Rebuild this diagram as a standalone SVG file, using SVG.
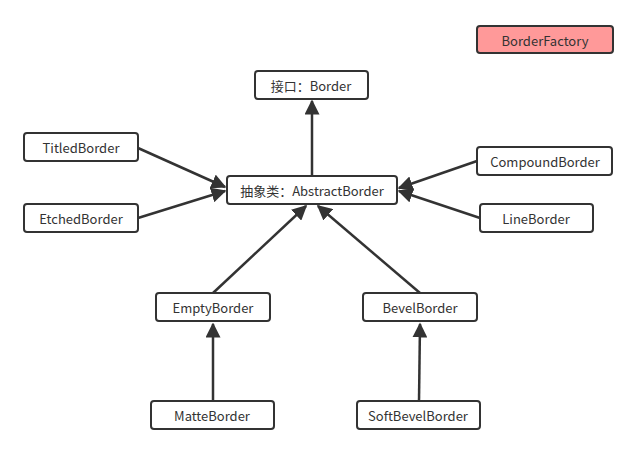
<svg xmlns="http://www.w3.org/2000/svg" width="638" height="453" viewBox="0 0 638 453">
<style>
.n rect{fill:#fff;stroke:#333;stroke-width:2}
.n text{font-family:"Noto Sans CJK SC","Liberation Sans",sans-serif;font-size:13px;fill:#333;text-anchor:middle;dominant-baseline:central}
.c line{stroke:#333;stroke-width:2.5;marker-end:url(#a)}
</style>
<defs><marker id="a" viewBox="0 0 10 10" refX="9" refY="5" markerWidth="6" markerHeight="6" markerUnits="strokeWidth" orient="auto"><path d="M0,0L10,5L0,10z" fill="#333"/></marker></defs>
<rect width="638" height="453" fill="#fff"/>
<g class="c">
<line x1="312" y1="175" x2="312" y2="101"/>
<line x1="138" y1="148" x2="225" y2="187"/>
<line x1="138" y1="218" x2="225" y2="191"/>
<line x1="477" y1="161" x2="399" y2="188"/>
<line x1="480" y1="218" x2="399" y2="191"/>
<line x1="213" y1="293" x2="306" y2="206"/>
<line x1="420" y1="293" x2="318" y2="206"/>
<line x1="213" y1="401" x2="213" y2="324"/>
<line x1="419" y1="401" x2="420" y2="324"/>
</g>
<g id="factory" class="n"><rect x="477" y="26" width="136" height="27" rx="3" style="fill:#ff9999"/><text x="545" y="40">BorderFactory</text></g>
<g id="border" class="n"><rect x="255" y="71" width="113" height="28" rx="3"/><text x="311" y="85">接口：Border</text></g>
<g id="abstract" class="n"><rect x="227" y="176" width="170" height="28" rx="3"/><text x="312" y="190">抽象类：AbstractBorder</text></g>
<g id="titled" class="n"><rect x="24" y="133" width="114" height="28" rx="3"/><text x="81" y="147">TitledBorder</text></g>
<g id="etched" class="n"><rect x="24" y="204" width="114" height="28" rx="3"/><text x="81" y="218">EtchedBorder</text></g>
<g id="compound" class="n"><rect x="477" y="147" width="135" height="28" rx="3"/><text x="545" y="161">CompoundBorder</text></g>
<g id="line" class="n"><rect x="480" y="204" width="113" height="28" rx="3"/><text x="536" y="218">LineBorder</text></g>
<g id="empty" class="n"><rect x="156" y="293" width="114" height="28" rx="3"/><text x="213" y="307">EmptyBorder</text></g>
<g id="bevel" class="n"><rect x="363" y="293" width="114" height="28" rx="3"/><text x="420" y="307">BevelBorder</text></g>
<g id="matte" class="n"><rect x="151" y="401" width="123" height="28" rx="3"/><text x="212" y="415">MatteBorder</text></g>
<g id="softbevel" class="n"><rect x="357" y="401" width="123" height="28" rx="3"/><text x="418" y="415">SoftBevelBorder</text></g>
</svg>
